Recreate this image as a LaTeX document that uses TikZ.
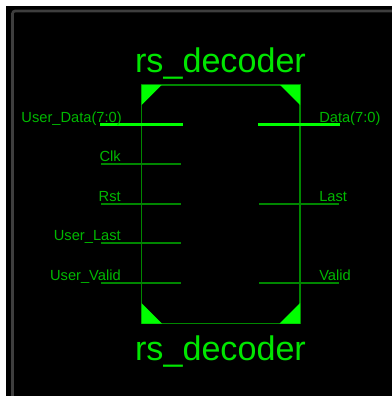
\documentclass[tikz,border=0pt]{standalone}
\usepackage{fontspec}
\setmainfont{Liberation Sans}
\usepackage{xcolor}
\definecolor{pingreen}{RGB}{0,135,0}
\definecolor{labelgreen}{RGB}{0,185,0}
\definecolor{titlegreen}{RGB}{0,230,0}
\definecolor{framegrey}{RGB}{62,62,62}
\tikzset{
	pinlabel/.style={text=labelgreen,inner sep=0pt,font=\fontsize{11}{13}\selectfont},
	titlelabel/.style={text=titlegreen,inner sep=0pt,anchor=base,font=\fontsize{25.6}{30}\selectfont},
	thinpin/.style={pingreen,line width=1.2pt},
	buspin/.style={green,line width=2.6pt},
	corner/.style={fill=green,draw=none}
}
\begin{document}
\begin{tikzpicture}[x=0.75pt,y=-0.75pt]
	\useasboundingbox (0,0) rectangle (392,396);
	\fill[white] (0,0) rectangle (392,396);
	\fill[black] (6,6) rectangle (392,396);
	\draw[framegrey,line width=2pt,rounded corners=2pt] (12.5,396)--(12.5,11)--(392,11);

	% symbol outline
	\coordinate (tl) at (141.5,85);
	\coordinate (tr) at (300,85);
	\coordinate (br) at (300,323.5);
	\coordinate (bl) at (141.5,323.5);
	\draw[thinpin] (tl)--(tr)--(br)--(bl)--cycle;

	\fill[corner] (tl)--(161.5,85)--(141.5,105)--cycle;
	\fill[corner] (tr)--(280,85)--(300,105)--cycle;
	\fill[corner] (br)--(279.5,323.5)--(300,303)--cycle;
	\fill[corner] (bl)--(162,323.5)--(141.5,303)--cycle;

	\node[titlelabel] (title_top) at (220.5,72) {rs\_decoder};
	\node[titlelabel] (title_bot) at (220.5,360) {rs\_decoder};

	% input pins
	\coordinate (din_a) at (100,124.5);
	\coordinate (din_b) at (183,124.5);
	\draw[buspin] (din_a)--(din_b);
	\node[pinlabel,anchor=base east] (din) at (122,122) {User\_Data(7:0)};
	\foreach \nm/\txt/\y in {clk/Clk/164,rst/Rst/204,ulast/User\_Last/243,uvalid/User\_Valid/283}{
		\coordinate (\nm_a) at (101,\y);
		\coordinate (\nm_b) at (181,\y);
		\draw[thinpin] (\nm_a)--(\nm_b);
		\node[pinlabel,anchor=base east] (\nm) at (121,\y-2.7) {\txt};
	}

	% output pins
	\coordinate (dout_a) at (258,124.5);
	\coordinate (dout_b) at (340,124.5);
	\draw[buspin] (dout_a)--(dout_b);
	\node[pinlabel,anchor=base west] (dout) at (319,122) {Data(7:0)};
	\foreach \nm/\txt/\y in {last/Last/204,valid/Valid/283}{
		\coordinate (\nm_a) at (259,\y);
		\coordinate (\nm_b) at (339,\y);
		\draw[thinpin] (\nm_a)--(\nm_b);
		\node[pinlabel,anchor=base west] (\nm) at (319,\y-2.7) {\txt};
	}
\end{tikzpicture}
\end{document}
